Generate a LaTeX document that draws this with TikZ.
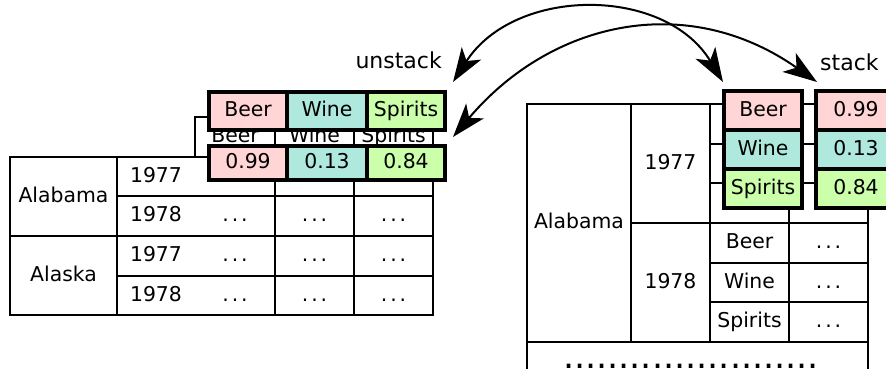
\documentclass[tikz,border=0pt]{standalone}
\usepackage{fontspec}
\setmainfont{DejaVu Sans}
\usepackage{xcolor}
\usetikzlibrary{arrows.meta}
\definecolor{BeerPink}{HTML}{FFD5D5}
\definecolor{WineTeal}{HTML}{AFE9DD}
\definecolor{SpiritGreen}{HTML}{CCFFAA}
\newcommand{\threedots}{.\kern2.8pt.\kern2.8pt.}

\begin{document}
\begin{tikzpicture}[x=1pt,y=-1pt,
  grid/.style={line width=2.2pt},
  cell/.style={inner sep=0pt,font=\fontsize{20.4}{24}\selectfont,text height=15pt,text depth=4pt},
  hlbox/.style={cell,draw,line width=4.4pt,outer sep=0pt},
  lbl/.style={inner sep=0pt,font=\fontsize{22}{26}\selectfont},
  roundtrip/.style={line width=2pt,{Stealth[length=34pt,width=23pt,inset=9pt]}-{Stealth[length=34pt,width=23pt,inset=9pt]}}]
\path[use as bounding box] (0,0) rectangle (886,368);
% wide table
\draw[grid] (10,157) rectangle (433,315);
\draw[grid] (195,117) rectangle (433,157);
\draw[grid] (117,157) -- (117,315);
\draw[grid] (275,117) -- (275,315);
\draw[grid] (354,117) -- (354,315);
\draw[grid] (117,196) -- (433,196);
\draw[grid] (10,236) -- (433,236);
\draw[grid] (117,276) -- (433,276);
\node[cell] (al) at (63.5,196.5) {Alabama};
\node[cell] (ak) at (63.5,275.5) {Alaska};
\node[cell] (y1) at (156,176.5) {1977};
\node[cell] (y2) at (156,216) {1978};
\node[cell] (y3) at (156,256) {1977};
\node[cell] (y4) at (156,295.5) {1978};
\node[cell] (hb) at (235,137) {Beer};
\node[cell] (hw) at (314.5,137) {Wine};
\node[cell] (hs) at (393.5,137) {Spirits};
\foreach \r/\yy in {2/216,3/256,4/295.5}
  \foreach \c/\xx in {1/235,2/314.5,3/393.5}
    \node[cell] (ld\r\c) at (\xx,\yy) {\threedots};
% long table
\draw[grid] (527,380) -- (527,104) -- (868,104) -- (868,380);
\draw[grid] (527,342) -- (868,342);
\draw[grid] (631,104) -- (631,342);
\draw[grid] (710,104) -- (710,342);
\draw[grid] (789,104) -- (789,342);
\draw[grid] (631,223) -- (868,223);
\draw[grid] (710,144) -- (868,144);
\draw[grid] (710,183) -- (868,183);
\draw[grid] (710,263) -- (868,263);
\draw[grid] (710,302) -- (868,302);
\node[cell] (ral) at (579,223) {Alabama};
\node[cell] (r77) at (670.5,163.5) {1977};
\node[cell] (r78) at (670.5,282.5) {1978};
\node[cell] (rb) at (749.5,243) {Beer};
\node[cell] (rw) at (749.5,282.5) {Wine};
\node[cell] (rs) at (749.5,322) {Spirits};
\node[cell] (rd1) at (828.5,243) {\threedots};
\node[cell] (rd2) at (828.5,282.5) {\threedots};
\node[cell] (rd3) at (828.5,322) {\threedots};
\node[inner sep=0pt,font=\fontsize{35}{40}\selectfont,anchor=base] (rmore) at (691,368) {.......................};
% picked out cells
\node[hlbox,fill=BeerPink,minimum width=78pt,minimum height=38pt] (bh1) at (248,111) {Beer};
\node[hlbox,fill=WineTeal,minimum width=80pt,minimum height=38pt] (bh2) at (327,111) {Wine};
\node[hlbox,fill=SpiritGreen,minimum width=78pt,minimum height=38pt] (bh3) at (406,111) {Spirits};
\node[hlbox,fill=BeerPink,minimum width=78pt,minimum height=34pt] (bv1) at (248,163) {0.99};
\node[hlbox,fill=WineTeal,minimum width=80pt,minimum height=34pt] (bv2) at (327,163) {0.13};
\node[hlbox,fill=SpiritGreen,minimum width=78pt,minimum height=34pt] (bv3) at (406,163) {0.84};
\node[hlbox,fill=BeerPink,minimum width=78pt,minimum height=39pt] (sk1) at (763,110.5) {Beer};
\node[hlbox,fill=WineTeal,minimum width=78pt,minimum height=39pt] (sk2) at (763,149.5) {Wine};
\node[hlbox,fill=SpiritGreen,minimum width=78pt,minimum height=39pt] (sk3) at (763,188.5) {Spirits};
\node[hlbox,fill=BeerPink,minimum width=80pt,minimum height=39pt] (sv1) at (856,110.5) {0.99};
\node[hlbox,fill=WineTeal,minimum width=80pt,minimum height=39pt] (sv2) at (856,149.5) {0.13};
\node[hlbox,fill=SpiritGreen,minimum width=80pt,minimum height=39pt] (sv3) at (856,188.5) {0.84};
% arrows
\draw[roundtrip] ([xshift=8pt,yshift=10pt]bh3.north east) .. controls +(62,-96) and +(-58,-96) .. ([xshift=-1pt,yshift=9pt]sk1.north west);
\draw[roundtrip] ([xshift=8pt,yshift=9pt]bv3.north east) .. controls +(97,-115) and +(-131,-92) .. ([xshift=1pt,yshift=9pt]sv1.north west);
\node[lbl,anchor=base east] (unst) at (442,68) {unstack};
\node[lbl,anchor=base west] (stk) at (820,70) {stack};
\end{tikzpicture}
\end{document}
